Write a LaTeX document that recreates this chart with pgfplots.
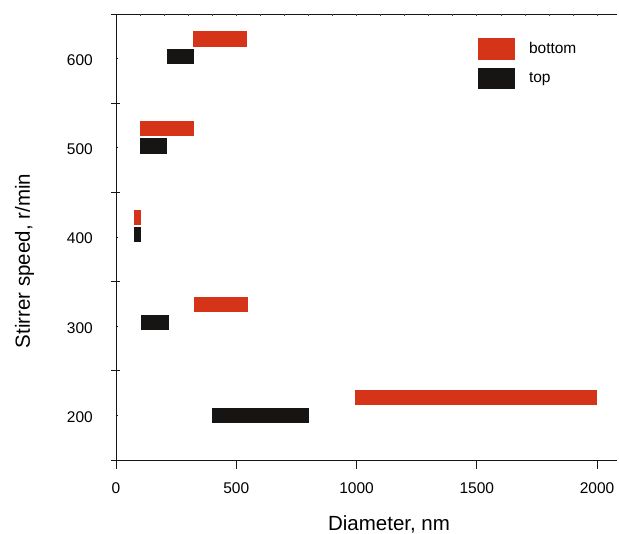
\documentclass[border=0pt]{standalone}
\usepackage{fontspec}
\setmainfont{Liberation Sans}
\usepackage{pgfplots}
\pgfplotsset{compat=1.18}
\definecolor{barred}{RGB}{214,52,24}
\definecolor{barblack}{RGB}{22,21,19}
\begin{document}
\begin{tikzpicture}
\path[use as bounding box] (-116bp,-74bp) rectangle (503bp,460bp);
\begin{axis}[
  scale only axis,
  width=501bp, height=446bp,
  xmin=0, xmax=2083,
  ymin=150, ymax=650,
  axis x line*=box,
  axis y line*=left,
  axis line style={line width=0.9bp, color=barblack},
  every tick/.style={line width=0.8bp, color=barblack},
  xtick=\empty,
  extra x ticks={0,500,1000,1500,2000},
  extra x tick style={major tick length=9bp, tick align=outside},
  minor xtick={100,200,300,400,600,700,800,900,1100,1200,1300,1400,1600,1700,1800,1900},
  minor tick length=6bp,
  xtick pos=bottom,
  xtick align=outside,
  ytick={200,300,400,500,600},
  ytick pos=left,
  ytick align=inside,
  major tick length=2bp,
  extra y ticks={150,250,350,450,550,650},
  extra y tick labels={},
  extra y tick style={major tick length=9bp, tick align=center},
  /pgf/number format/assume math mode=true,
  /pgf/number format/1000 sep={},
  tick label style={font=\fontsize{15.5bp}{18bp}\selectfont, inner sep=0pt},
  yticklabel style={xshift=-23bp, yshift=-1.5bp},
  xticklabel style={yshift=-13bp},
  xlabel={Diameter, nm},
  ylabel={Stirrer speed, r/min},
  every axis x label/.style={at={(axis description cs:0.545,0)}, anchor=base, yshift=-70.7bp, inner sep=0pt, font=\fontsize{20.5bp}{24bp}\selectfont},
  every axis y label/.style={at={([xshift=-86bp]axis description cs:0,0.446)}, rotate=90, anchor=base, inner sep=0pt, font=\fontsize{20.5bp}{24bp}\selectfont},
  empty line=jump,
  legend image code/.code={\fill[#1, draw=none] (0bp,-10.8bp) rectangle (37bp,10.8bp);},
  legend style={at={(axis description cs:0.7226,0.946)}, anchor=north west, draw=none, fill=none, inner sep=0pt, outer sep=0pt, row sep=8bp, font=\fontsize{15.5bp}{18bp}\selectfont, nodes={inner sep=0pt}, /tikz/every odd column/.append style={column sep=14bp}},
  legend cell align=left,
]
\addplot[barred, line width=15.3bp, line cap=butt] table[x=x, y=y] {
x y
320 622
545 622

100 522
324 522

76 422
104 422

325 324
548 324

995 220
1999 220
};
\addlegendentry{bottom}
\addplot[barblack, line width=15.3bp, line cap=butt] table[x=x, y=y] {
x y
211 602
324 602

100 502
213 502

76 403
104 403

105 304
220 304

398 200
801 200
};
\addlegendentry{top}
\end{axis}
\begin{axis}[
  scale only axis,
  width=501bp, height=446bp,
  xmin=0, xmax=2083,
  ymin=150, ymax=650,
  hide y axis,
  axis x line*=top,
  x axis line style={draw=none},
  every tick/.style={line width=0.6bp, color=barblack!80},
  xtick={100,200,...,2000},
  xticklabels={},
  xtick align=inside,
  major tick length=2.5bp,
]
\end{axis}
\end{tikzpicture}
\end{document}
